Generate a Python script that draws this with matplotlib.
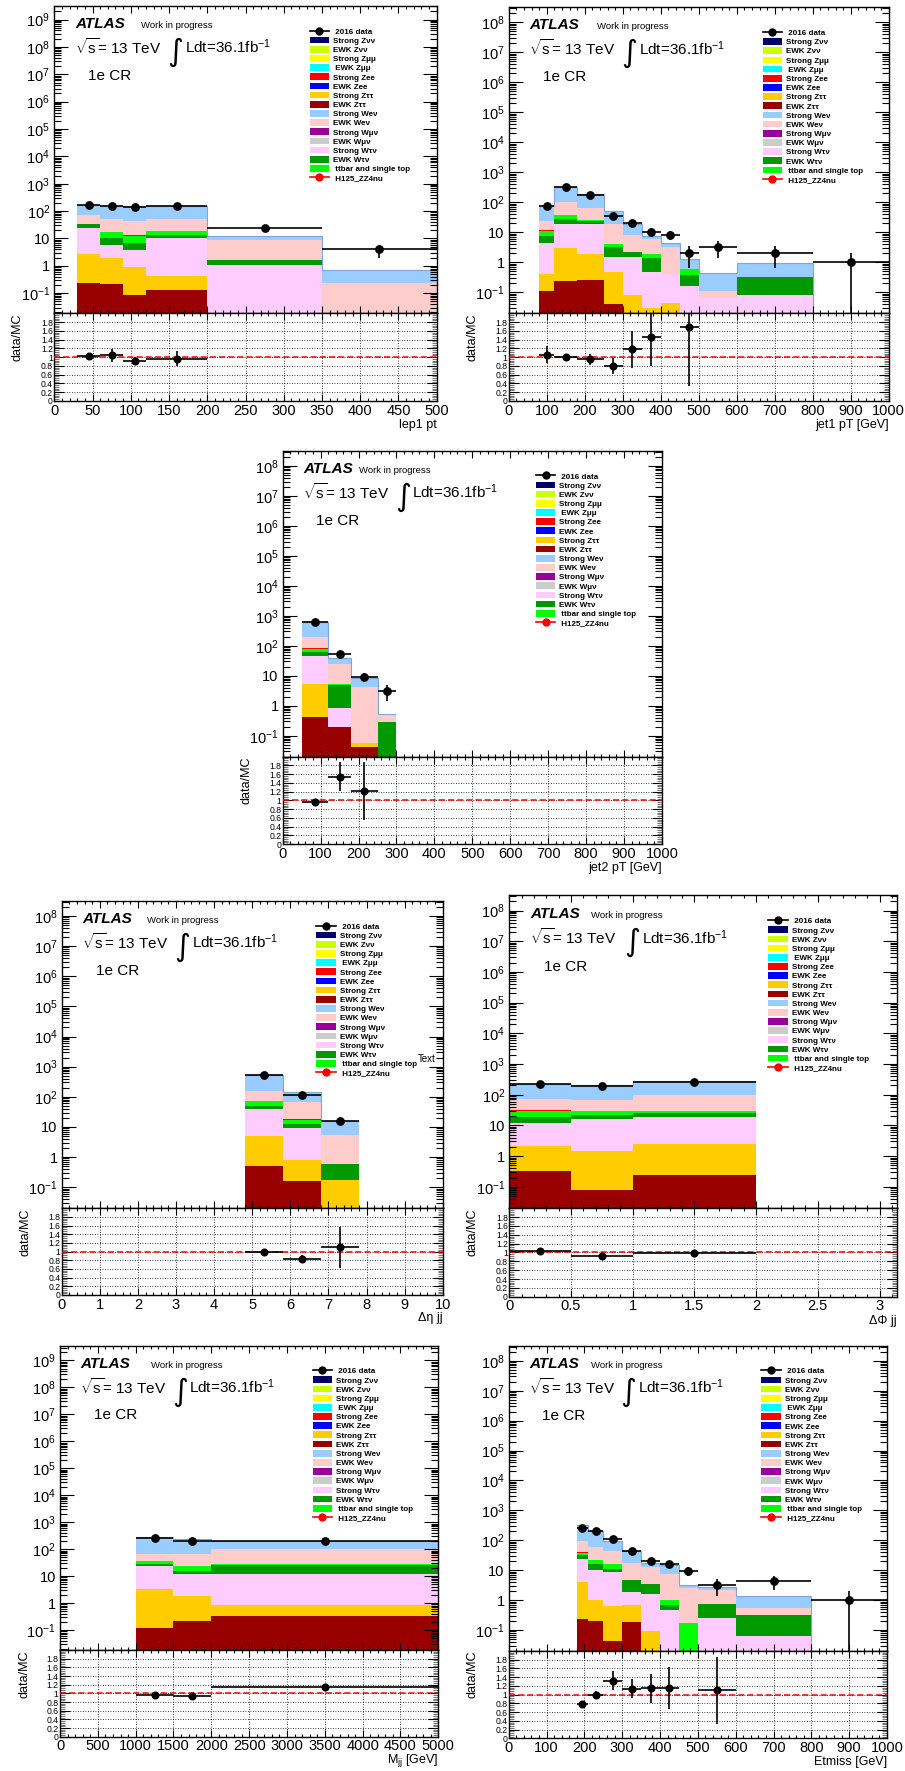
import numpy as np
import matplotlib
matplotlib.use("Agg")
import matplotlib.pyplot as plt
from matplotlib.lines import Line2D
from matplotlib.patches import Patch
from matplotlib.ticker import LogLocator, MultipleLocator, FuncFormatter, NullFormatter

plt.rcParams['font.family'] = ['Liberation Sans', 'DejaVu Sans']
plt.rcParams['mathtext.fontset'] = 'custom'
plt.rcParams['mathtext.rm'] = 'Liberation Sans'
plt.rcParams['mathtext.it'] = 'Liberation Sans:italic'
plt.rcParams['mathtext.bf'] = 'Liberation Sans:bold'

# stack order, bottom -> top
stack_names = ["EWK Zττ", "Strong Zττ", "Strong Wτν", "EWK Wτν",
               "ttbar and single top", "Strong Zee", "EWK Weν", "Strong Weν"]
stack_colors = ["#990000", "#ffcc00", "#ffccff", "#009900",
                "#00ff00", "#ff0000", "#ffcccc", "#99ccff"]

legend_labels = ["Strong Zνν", "EWK Zνν", "Strong Zμμ", " EWK Zμμ", "Strong Zee",
                 "EWK Zee", "Strong Zττ", "EWK Zττ", "Strong Weν", "EWK Weν",
                 "Strong Wμν", "EWK Wμν", "Strong Wτν", "EWK Wτν", " ttbar and single top"]
legend_colors = ["#000066", "#ccff00", "#ffff00", "#00ffff", "#ff0000",
                 "#0000ff", "#ffcc00", "#990000", "#99ccff", "#ffcccc",
                 "#990099", "#cccccc", "#ffccff", "#009900", "#00ff00"]

# ---- lep1 pt ----
lep1_edges = [30, 60, 90, 120, 200, 350, 500]
lep1_data = [163, 150, 141, 155, 24, 4.0]
lep1_err = [13, 12, 12, 12, 5, 2]
lep1_stack = [
    [0.23, 0.21, 0.085, 0.13, 0, 0],
    [2.4, 1.75, 0.84, 0.3, 0, 0],
    [21.7, 4.0, 3.0, 10.4, 1.12, 0],
    [8.7, 4.8, 3.2, 2.2, 0.48, 0],
    [0, 6.6, 5.6, 5.3, 0, 0],
    [0, 0, 0.8, 0, 0, 0],
    [37, 32.6, 28.5, 31.7, 7.5, 0.227],
    [93, 100, 113, 105, 2.9, 0.5],
]
lep1_ratio = [1.02, 1.04, 0.91, 0.96, np.nan, np.nan]
lep1_rerr = [0.05, 0.15, 0.1, 0.17, 0, 0]

# ---- jet1 pT ----
jet1_edges = [80, 120, 180, 250, 300, 350, 400, 450, 500, 600, 800, 1000]
jet1_data = [75, 331, 171, 36, 21, 10.5, 8.4, 2.1, 3.2, 2.1, 1.05]
jet1_err = [8.7, 18, 13, 6, 4.6, 3.2, 2.9, 1.45, 1.8, 1.45, 1.03]
jet1_stack = [
    [0.11, 0.24, 0.26, 0.041, 0, 0, 0, 0, 0, 0, 0],
    [0.29, 2.66, 1.64, 0.42, 0.081, 0.029, 0.045, 0, 0, 0, 0],
    [4.1, 16.1, 16.6, 1.01, 1.4, 0.46, 0.365, 0.16, 0.066, 0.081, 0],
    [3.0, 8.8, 4.8, 1.69, 0.8, 0.94, 0, 0.22, 0, 0.25, 0],
    [3.9, 10, 2.5, 0.94, 0, 0.47, 0, 0.2, 0, 0, 0],
    [0.8, 0, 0, 0, 0, 0, 0, 0, 0, 0, 0],
    [12.3, 67, 37, 14.9, 5.8, 3.9, 2.9, 0, 0.044, 0, 0],
    [50.5, 226, 127, 31, 10.9, 1.7, 1.0, 0.74, 0.34, 0.63, 0],
]
jet1_ratio = [1.06, 1.0, 0.95, 0.79, 1.18, 1.45, np.nan, 1.68, np.nan, np.nan, np.nan]
jet1_rerr = [0.2, 0.05, 0.13, 0.18, 0.42, 0.65, 0, 1.33, 0, 0, 0]

# ---- jet2 pT ----
jet2_edges = [50, 120, 180, 250, 300]
jet2_data = [600, 55, 9.3, 3.2]
jet2_err = [24, 7.4, 3.0, 1.8]
jet2_stack = [
    [0.43, 0.19, 0.043, 0],
    [5.07, 0.01, 0.014, 0],
    [39.5, 0.66, 0, 0],
    [16, 4.24, 0, 0.28],
    [16, 0.3, 0, 0],
    [7, 0, 0, 0],
    [116, 19.1, 4.04, 0.25],
    [431, 13.5, 4.3, 0],
]
jet2_ratio = [0.96, 1.54, 1.21, np.nan]
jet2_rerr = [0.04, 0.33, 0.67, 0]

# ---- delta eta jj ----
deta_edges = [4.8, 5.8, 6.8, 7.8]
deta_data = [530, 116, 15.6]
deta_err = [23, 10.8, 3.9]
deta_stack = [
    [0.5, 0.156, 0],
    [4.7, 0.62, 0.18],
    [33.8, 8.6, 0],
    [11, 3.3, 0.39],
    [20, 4.5, 0],
    [0, 1.4, 0],
    [91, 47.4, 5.0],
    [372, 76, 10],
]
deta_ratio = [0.99, 0.83, 1.1]
deta_rerr = [0.04, 0.1, 0.47]

# ---- delta phi jj ----
dphi_edges = [0, 0.5, 1, 2]
dphi_data = [223, 192, 252]
dphi_err = [15, 14, 16]
dphi_stack = [
    [0.32, 0.078, 0.24],
    [1.78, 1.38, 2.22],
    [9.5, 14.5, 15.7],
    [7.4, 5.7, 7.7],
    [11, 7.3, 3.1],
    [1, 0, 0],
    [39, 38, 68],
    [153, 140, 175],
]
dphi_ratio = [1.04, 0.91, 0.98]
dphi_rerr = [0.05, 0.05, 0.05]

# ---- Mjj ----
mjj_edges = [1000, 1500, 2000, 5000]
mjj_data = [270, 209, 209]
mjj_err = [16, 14, 14]
mjj_stack = [
    [0.119, 0.22, 0.34],
    [3.18, 1.7, 0.53],
    [21.5, 10.3, 11],
    [3.8, 4.0, 14.4],
    [9.4, 8.6, 1.5],
    [0, 0, 0],
    [29, 42, 75],
    [211, 168, 106],
]
mjj_ratio = [0.96, 0.94, 1.14]
mjj_rerr = [0.05, 0.06, 0.06]

# ---- Etmiss ----
met_edges = [180, 210, 250, 300, 350, 400, 450, 500, 600, 800, 1000]
met_data = [257, 200, 114, 43, 20, 16.7, 9.5, 3.2, 4.3, 1.0]
met_err = [16, 14, 10.7, 6.6, 4.5, 4.1, 3.1, 1.8, 2.1, 0.98]
met_stack = [
    [0.23, 0.2, 0.044, 0.19, 0, 0, 0, 0, 0, 0],
    [3.67, 0.8, 0.59, 0.49, 0.095, 0, 0, 0, 0, 0],
    [20.6, 9, 8.2, 1.22, 1.57, 0.46, 0, 0.245, 0.063, 0],
    [7.1, 6.7, 2.0, 3.0, 1.83, 0.22, 0, 0.52, 0.26, 0],
    [7.4, 4.8, 5.0, 0, 0, 0.32, 0.175, 0, 0, 0],
    [3, 0, 0, 0, 0, 0, 0, 0, 0, 0],
    [51, 38.5, 27, 13.1, 9.4, 6.4, 2.28, 1.38, 0.21, 0],
    [240, 140, 50, 25, 5.1, 8.1, 0.75, 0.65, 0.87, 0],
]
met_ratio = [0.79, 1.0, 1.32, 1.14, 1.15, 1.15, np.nan, 1.1, np.nan, np.nan]
met_rerr = [0.05, 0.08, 0.22, 0.22, 0.33, 0.48, 0, 0.77, 0, 0]

W, H = 905, 1771
fig = plt.figure(figsize=(W / 100, H / 100), dpi=100)


def log_label(v, pos):
    e = int(round(np.log10(v)))
    if e == 0:
        return "1"
    if e == 1:
        return "10"
    return r"$10^{%d}$" % e


def ratio_label(v, pos):
    if v > 1.95:
        return ""
    return "%g" % round(v, 2)


def draw_panel(box, edges, data, err, stack, ratio, rerr, xlim, ylim,
               xlabel, xmajor, xminor, work_x):
    left, top, right, mid, bottom = box
    ax = fig.add_axes([left / W, 1 - mid / H, (right - left) / W, (mid - top) / H])
    rax = fig.add_axes([left / W, 1 - bottom / H, (right - left) / W, (bottom - mid) / H],
                       sharex=ax)

    edges = np.array(edges, float)
    vals = np.array(stack, float)
    cum = np.cumsum(vals, axis=0)
    floor = 1e-4
    base = np.full(len(edges) - 1, floor)
    for i in range(len(vals)):
        top_ = np.maximum(cum[i], floor)
        if np.any(vals[i] > 0):
            ax.stairs(top_, edges, baseline=base, fill=True,
                      color=stack_colors[i], lw=0)
        base = top_
    ax.stairs(np.maximum(cum[-1], floor), edges, baseline=None,
              color="#7aa6dc", lw=0.8)

    centers = 0.5 * (edges[1:] + edges[:-1])
    half = 0.5 * np.diff(edges)
    ax.errorbar(centers, data, xerr=half, yerr=err, fmt='o', color='k',
                ms=5.3, elinewidth=1.2, capsize=0, zorder=5)

    ax.set_yscale('log')
    ax.set_xlim(*xlim)
    ax.set_ylim(*ylim)
    ax.yaxis.set_major_locator(LogLocator(base=10, numticks=30))
    ax.yaxis.set_minor_locator(LogLocator(base=10, subs=np.arange(2, 10), numticks=300))
    ax.yaxis.set_major_formatter(FuncFormatter(log_label))
    ax.yaxis.set_minor_formatter(NullFormatter())
    ax.xaxis.set_major_locator(MultipleLocator(xmajor))
    ax.xaxis.set_minor_locator(MultipleLocator(xminor))
    ax.tick_params(axis='both', which='both', direction='in', top=True, right=True,
                   labelbottom=False, width=0.8)
    ax.tick_params(axis='y', which='major', length=10, labelsize=10.5, pad=3)
    ax.tick_params(axis='y', which='minor', length=5)
    ax.tick_params(axis='x', which='major', length=5)
    ax.tick_params(axis='x', which='minor', length=2.5)
    for s in ax.spines.values():
        s.set_linewidth(1.0)

    # labels
    ax.text(0.054, 0.928, "ATLAS", transform=ax.transAxes, fontsize=11,
            fontweight='bold', fontstyle='italic', va='baseline')
    ax.text(work_x, 0.928, "Work in progress", transform=ax.transAxes,
            fontsize=6.8, va='baseline')
    ax.text(0.054, 0.843, r"$\sqrt{\mathrm{s}}$= 13 TeV", transform=ax.transAxes,
            fontsize=11, va='baseline')
    ax.text(0.296, 0.848, "∫", transform=ax.transAxes, fontsize=22,
            family='DejaVu Sans', va='center')
    ax.text(0.342, 0.845, r"Ldt=36.1fb$^{\mathrm{-1}}$", transform=ax.transAxes,
            fontsize=11, va='baseline')
    ax.text(0.089, 0.758, "1e CR", transform=ax.transAxes, fontsize=11, va='baseline')

    handles = [Line2D([], [], color='k', marker='o', ms=5, lw=1.2)]
    handles += [Patch(facecolor=c, edgecolor='none') for c in legend_colors]
    handles.append(Line2D([], [], color='red', marker='o', ms=5, lw=1.2))
    labels = [" 2016 data"] + legend_labels + [" H125_ZZ4nu"]
    ax.legend(handles, labels, loc='upper left', bbox_to_anchor=(0.668, 0.929),
              frameon=False, prop={'weight': 'bold', 'size': 5.8},
              handlelength=2.4, handleheight=0.9, labelspacing=0.13,
              handletextpad=0.5, borderpad=0, borderaxespad=0)

    # ratio panel
    rax.errorbar(centers, ratio, xerr=half, yerr=rerr, fmt='o', color='k',
                 ms=4.8, elinewidth=1.2, capsize=0, zorder=5)
    rax.axhline(1.0, color='red', ls=(0, (4, 2)), lw=1.1, zorder=4)
    rax.set_ylim(0, 2.0)
    rax.yaxis.set_major_locator(MultipleLocator(0.2))
    rax.yaxis.set_minor_locator(MultipleLocator(0.04))
    rax.yaxis.set_major_formatter(FuncFormatter(ratio_label))
    rax.grid(True, which='major', axis='both', color='k', ls=(0, (1, 2)), lw=0.6)
    rax.tick_params(axis='both', which='both', direction='in', top=True, right=True,
                    width=0.8)
    rax.tick_params(axis='y', which='major', length=7, labelsize=6.2, pad=1)
    rax.tick_params(axis='y', which='minor', length=3.5, color='#777777')
    rax.tick_params(axis='x', which='major', length=5, labelsize=10.5, pad=2)
    rax.tick_params(axis='x', which='minor', length=2.5)
    for s in rax.spines.values():
        s.set_linewidth(1.0)
    rax.xaxis.set_major_formatter(FuncFormatter(lambda v, p: "%g" % round(v, 3)))
    rax.text(1.0, -0.27, xlabel, transform=rax.transAxes, fontsize=9,
             ha='right', va='center')
    rax.text(-0.095, 1.0, "data/MC", transform=rax.transAxes, fontsize=9,
             rotation=90, ha='center', va='top')
    return ax, rax


draw_panel((54.3, 5.7, 436.7, 313.3, 401), lep1_edges, lep1_data, lep1_err,
           lep1_stack, lep1_ratio, lep1_rerr, (0, 500), (0.0185, 3.2e9),
           "lep1 pt", 50, 10, 0.227)
draw_panel((508.7, 7.3, 888.7, 313.3, 401), jet1_edges, jet1_data, jet1_err,
           jet1_stack, jet1_ratio, jet1_rerr, (0, 1000), (0.02, 3.2e8),
           "jet1 pT [GeV]", 100, 20, 0.232)
draw_panel((282.7, 450.7, 662, 756.7, 844), jet2_edges, jet2_data, jet2_err,
           jet2_stack, jet2_ratio, jet2_rerr, (0, 1000), (0.02, 3.2e8),
           "jet2 pT [GeV]", 100, 20, 0.202)
ax4, _ = draw_panel((61.7, 900.7, 442.7, 1208.3, 1295), deta_edges, deta_data, deta_err,
                    deta_stack, deta_ratio, deta_rerr, (0, 10), (0.02, 3.2e8),
                    "Δη jj", 1, 0.2, 0.223)
ax4.text(0.935, 0.485, "Text", transform=ax4.transAxes, fontsize=7, va='center')
draw_panel((509.3, 895, 897, 1208.3, 1296.7), dphi_edges, dphi_data, dphi_err,
           dphi_stack, dphi_ratio, dphi_rerr, (0, np.pi), (0.02, 3.2e8),
           "ΔΦ jj", 0.5, 0.1, 0.211)
draw_panel((60, 1345.7, 438.3, 1650, 1736.7), mjj_edges, mjj_data, mjj_err,
           mjj_stack, mjj_ratio, mjj_rerr, (0, 5000), (0.0185, 3.5e9),
           r"M$_{\mathrm{jj}}$ [GeV]", 500, 100, 0.24)
draw_panel((508.7, 1345.7, 887, 1651, 1738.3), met_edges, met_data, met_err,
           met_stack, met_ratio, met_rerr, (0, 1000), (0.02, 3.2e8),
           "Etmiss [GeV]", 100, 20, 0.218)

fig.savefig("out.png", dpi=100)
